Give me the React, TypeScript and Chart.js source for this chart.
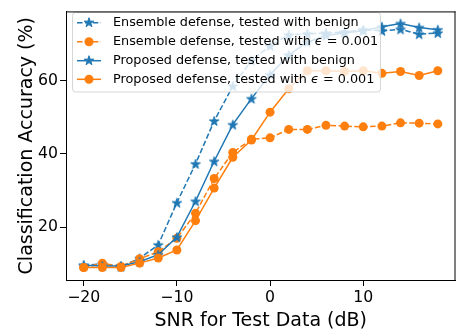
import React, { useEffect, useRef } from "react";
import { Chart, registerables } from "chart.js";

Chart.register(...registerables);

// SNR sweep (dB)
const snr = [-20, -18, -16, -14, -12, -10, -8, -6, -4, -2, 0, 2, 4, 6, 8, 10, 12, 14, 16, 18];

// Classification accuracy (%)
const ensembleBenign = [9.6, 10.0, 9.3, 11.5, 15.2, 26.7, 37.3, 49.0, 58.5, 65.5, 69.5, 72.5, 72.8, 73.0, 73.3, 73.9, 73.6, 74.0, 72.7, 73.0];
const ensembleEps = [9.0, 10.2, 9.3, 11.4, 13.3, 17.0, 23.8, 33.3, 40.4, 44.0, 44.4, 46.7, 46.7, 47.8, 47.6, 47.4, 47.6, 48.5, 48.4, 48.2];
const proposedBenign = [9.6, 9.4, 9.4, 10.6, 12.5, 17.3, 27.1, 38.0, 48.0, 55.1, 61.6, 67.0, 70.5, 72.3, 73.0, 73.6, 74.7, 75.6, 74.5, 73.9];
const proposedEps = [9.0, 9.0, 9.0, 10.2, 11.6, 13.8, 21.8, 30.7, 39.1, 43.8, 51.4, 57.8, 62.7, 62.7, 62.5, 62.7, 62.0, 62.5, 61.4, 62.7];

const xTicks = [-20, -10, 0, 10];
const yTicks = [20, 40, 60];

const BLUE = "#1f77b4";
const ORANGE = "#ff7f0e";
const FONT = "DejaVu Sans";
const DASH = [5.5, 2.4];

type Part = { text: string; italic?: boolean };
type LegendItem = { color: string; dashed: boolean; marker: "star" | "circle"; parts: Part[] };

const legendItems: LegendItem[] = [
  { color: BLUE, dashed: true, marker: "star", parts: [{ text: "Ensemble defense, tested with benign" }] },
  {
    color: ORANGE, dashed: true, marker: "circle",
    parts: [{ text: "Ensemble defense, tested with " }, { text: "\u03f5", italic: true }, { text: " = 0.001" }],
  },
  { color: BLUE, dashed: false, marker: "star", parts: [{ text: "Proposed defense, tested with benign" }] },
  {
    color: ORANGE, dashed: false, marker: "circle",
    parts: [{ text: "Proposed defense, tested with " }, { text: "\u03f5", italic: true }, { text: " = 0.001" }],
  },
];

function starPath(ctx: CanvasRenderingContext2D, cx: number, cy: number, r: number) {
  const inner = r * 0.381966;
  ctx.beginPath();
  for (let i = 0; i < 10; i++) {
    const rad = i % 2 === 0 ? r : inner;
    const a = -Math.PI / 2 + (i * Math.PI) / 5;
    const px = cx + rad * Math.cos(a);
    const py = cy + rad * Math.sin(a);
    if (i === 0) ctx.moveTo(px, py);
    else ctx.lineTo(px, py);
  }
  ctx.closePath();
}

function makeStar(color: string, r: number): HTMLCanvasElement {
  const c = document.createElement("canvas");
  const s = Math.ceil(r * 2 + 4);
  c.width = s;
  c.height = s;
  const ctx = c.getContext("2d")!;
  starPath(ctx, s / 2, s / 2 + 0.5, r);
  ctx.fillStyle = color;
  ctx.fill();
  ctx.strokeStyle = color;
  ctx.lineWidth = 1;
  ctx.stroke();
  return c;
}

const legendPlugin = {
  id: "boxLegend",
  afterDatasetsDraw(chart: Chart) {
    const ctx = chart.ctx;
    const bx = 72.5, by = 12.5, bw = 308, bh = 79.5, rr = 3;
    ctx.save();
    ctx.beginPath();
    ctx.moveTo(bx + rr, by);
    ctx.arcTo(bx + bw, by, bx + bw, by + bh, rr);
    ctx.arcTo(bx + bw, by + bh, bx, by + bh, rr);
    ctx.arcTo(bx, by + bh, bx, by, rr);
    ctx.arcTo(bx, by, bx + bw, by, rr);
    ctx.closePath();
    ctx.fillStyle = "rgba(255,255,255,0.8)";
    ctx.fill();
    ctx.strokeStyle = "rgba(204,204,204,0.8)";
    ctx.lineWidth = 1;
    ctx.stroke();

    const rows = [22.7, 41.7, 60.7, 79.3];
    legendItems.forEach((it, i) => {
      const y = rows[i];
      ctx.strokeStyle = it.color;
      ctx.lineWidth = 1.5;
      ctx.setLineDash(it.dashed ? DASH : []);
      ctx.beginPath();
      ctx.moveTo(77, y);
      ctx.lineTo(101, y);
      ctx.stroke();
      ctx.setLineDash([]);
      ctx.fillStyle = it.color;
      if (it.marker === "star") {
        starPath(ctx, 89, y, 5);
        ctx.fill();
        ctx.lineWidth = 1;
        ctx.stroke();
      } else {
        ctx.beginPath();
        ctx.arc(89, y, 4.5, 0, Math.PI * 2);
        ctx.fill();
      }
      let tx = 113;
      ctx.fillStyle = "#000";
      ctx.textBaseline = "middle";
      ctx.textAlign = "left";
      it.parts.forEach((p) => {
        ctx.font = `${p.italic ? "italic " : ""}12.8px '${FONT}'`;
        ctx.fillText(p.text, tx, y);
        tx += ctx.measureText(p.text).width;
      });
    });
    ctx.restore();
  },
  afterDraw(chart: Chart) {
    const { ctx, chartArea } = chart;
    ctx.save();
    ctx.strokeStyle = "#000";
    ctx.lineWidth = 1;
    ctx.beginPath();
    ctx.moveTo(chartArea.left, chartArea.top + 0.5);
    ctx.lineTo(chartArea.right, chartArea.top + 0.5);
    ctx.moveTo(chartArea.right - 0.5, chartArea.top);
    ctx.lineTo(chartArea.right - 0.5, chartArea.bottom);
    ctx.stroke();
    ctx.restore();
  },
};

const minus = (v: number | string) => String(v).replace("-", "\u2212");

export default function App() {
  const ref = useRef<HTMLCanvasElement | null>(null);

  useEffect(() => {
    if (!ref.current) return;
    const blueStar = makeStar(BLUE, 5);
    const pts = (arr: number[]) => arr.map((y, i) => ({ x: snr[i], y }));
    const series = (
      data: number[], color: string, dashed: boolean, star: boolean, order: number, label: string
    ) => ({
      label,
      data: pts(data),
      borderColor: color,
      backgroundColor: color,
      borderWidth: 1.5,
      borderDash: dashed ? DASH : [],
      pointStyle: star ? blueStar : "circle",
      pointRadius: 4.5,
      pointBorderWidth: 0,
      pointBackgroundColor: color,
      tension: 0,
      order,
    });

    const chart = new Chart(ref.current, {
      type: "line",
      data: {
        datasets: [
          series(ensembleBenign, BLUE, true, true, 3, "Ensemble defense, tested with benign"),
          series(ensembleEps, ORANGE, true, false, 2, "Ensemble defense, tested with \u03f5 = 0.001"),
          series(proposedBenign, BLUE, false, true, 1, "Proposed defense, tested with benign"),
          series(proposedEps, ORANGE, false, false, 0, "Proposed defense, tested with \u03f5 = 0.001"),
        ] as any,
      },
      options: {
        responsive: false,
        animation: false,
        devicePixelRatio: 1,
        layout: { padding: { top: 5, left: 0, right: 0, bottom: 0 } },
        plugins: { legend: { display: false }, tooltip: { enabled: false } },
        scales: {
          x: {
            type: "linear",
            min: -21.9,
            max: 19.9,
            afterBuildTicks: (s: any) => {
              s.ticks = xTicks.map((v) => ({ value: v }));
            },
            afterFit: (s: any) => {
              s.height = 55;
            },
            ticks: {
              font: { family: FONT, size: 15.7 },
              color: "#000",
              padding: 3,
              maxRotation: 0,
              autoSkip: false,
              callback: (v: any) => minus(v),
            },
            grid: { display: true, drawOnChartArea: false, drawTicks: true, tickLength: 6, color: "#000", lineWidth: 1 },
            border: { display: true, color: "#000", width: 1 },
            title: {
              display: true,
              text: "SNR for Test Data (dB)",
              font: { family: FONT, size: 19 },
              color: "#000",
              padding: { top: 0, bottom: 3 },
            },
          },
          y: {
            type: "linear",
            min: 5.6,
            max: 78.9,
            afterBuildTicks: (s: any) => {
              s.ticks = yTicks.map((v) => ({ value: v }));
            },
            afterFit: (s: any) => {
              s.width = 66;
            },
            ticks: {
              font: { family: FONT, size: 15.7 },
              color: "#000",
              padding: 2,
              autoSkip: false,
              callback: (v: any) => minus(v),
            },
            grid: { display: true, drawOnChartArea: false, drawTicks: true, tickLength: 6, color: "#000", lineWidth: 1 },
            border: { display: true, color: "#000", width: 1 },
            title: {
              display: true,
              text: "Classification Accuracy (%)",
              font: { family: FONT, size: 19 },
              color: "#000",
              padding: { top: 16, bottom: 0 },
            },
          },
        },
      },
      plugins: [legendPlugin],
    });
    return () => chart.destroy();
  }, []);

  return (
    <div style={{ position: "fixed", left: 0, top: 0, width: 456, height: 335, overflow: "hidden", background: "#fff" }}>
      <canvas ref={ref} width={460} height={335} style={{ display: "block", width: 460, height: 335 }} />
    </div>
  );
}
